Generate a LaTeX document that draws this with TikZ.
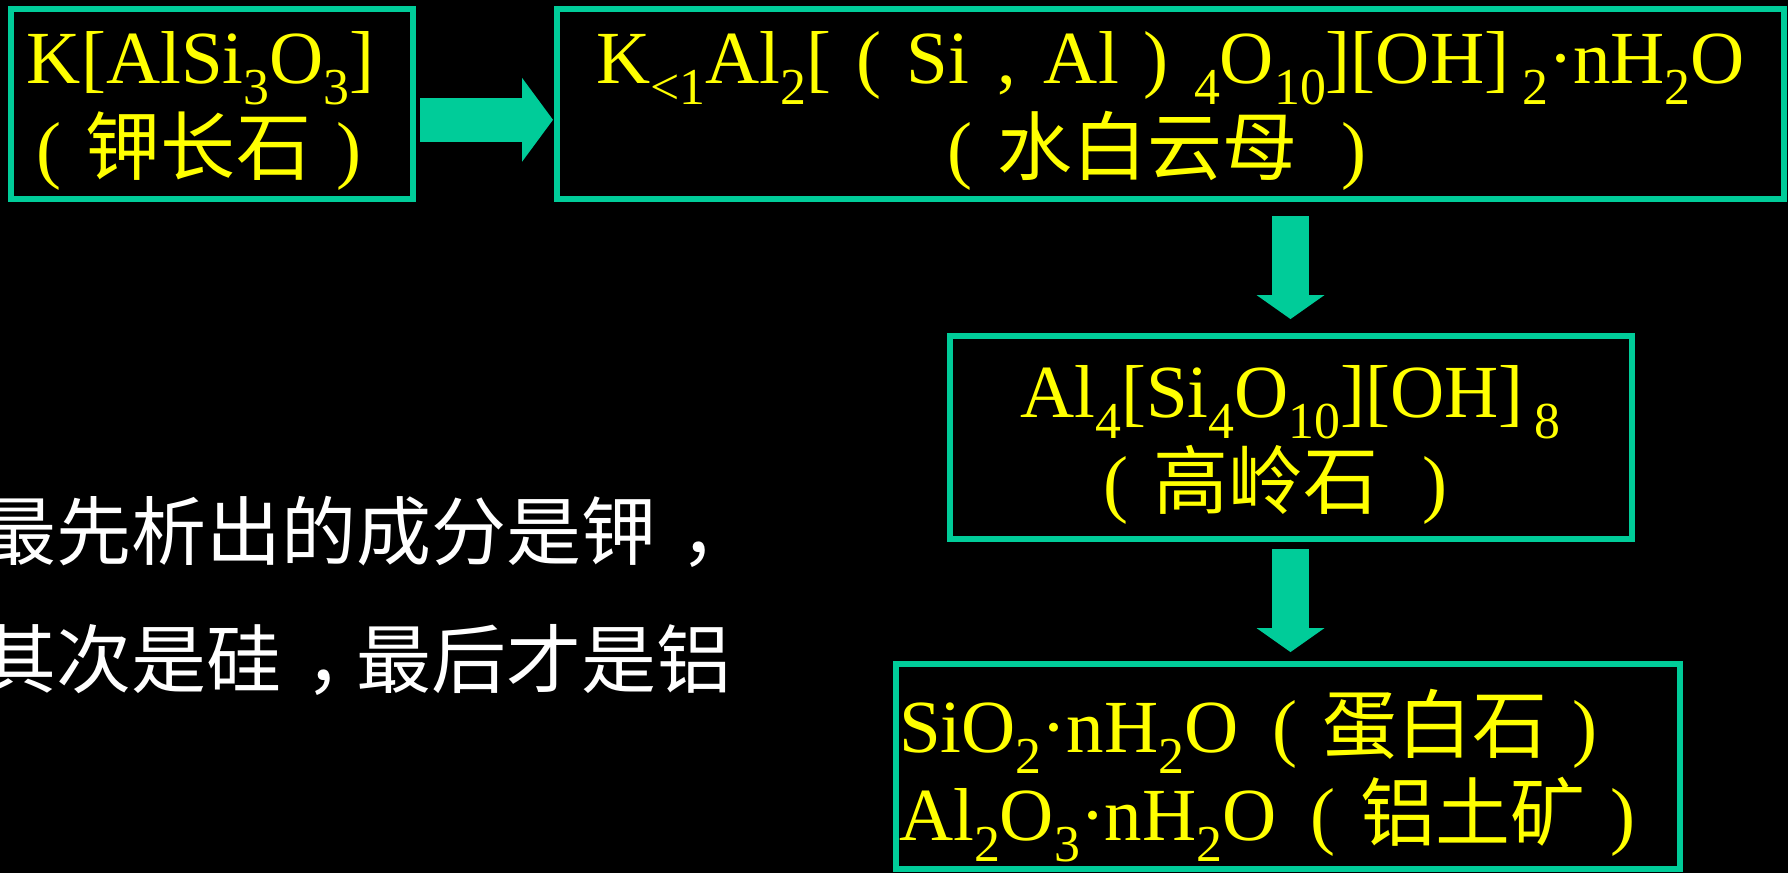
\documentclass[tikz,border=0pt]{standalone}
\usepackage{fontspec}
\setmainfont{Liberation Serif}
\newfontfamily\cjk{Noto Sans CJK SC}
\usetikzlibrary{arrows.meta, positioning, calc}
\definecolor{slideteal}{RGB}{0,204,153}
\definecolor{slideyellow}{RGB}{255,255,0}
% lowered index in the formulas
\newcommand{\lo}[1]{\raisebox{-0.28em}{\fontsize{29.5}{30}\selectfont #1}}
% wide brackets and commas
\newcommand{\lpar}{\makebox[1em]{(}}
\newcommand{\rpar}{\makebox[1em]{)}}
\newcommand{\wcomma}{\makebox[1em]{,}}
\newcommand{\midcomma}{\makebox[1em][l]{\hspace{0.32em}，}}

\begin{document}
\begin{tikzpicture}[
    every node/.style={font=\fontsize{42.68}{52}\selectfont},
    mineralbox/.style={rectangle, draw=slideteal, line width=0.12cm,
        text=slideyellow, align=center, inner sep=0pt, text depth=0pt},
    flowright/.style={-{Triangle[length=0.62cm, width=1.68cm, line width'=0pt]},
        line width=0.88cm, slideteal},
    flowdown/.style={-{Triangle[length=0.48cm, width=1.36cm, line width'=0pt]},
        line width=0.74cm, slideteal},
    note/.style={text=white, align=left, inner sep=0pt,
        font=\cjk\fontsize{42.68}{72.3}\selectfont},
]

% slide background
\fill[black] (0,0) rectangle (35.76,-17.46);
\useasboundingbox (0,0) rectangle (35.76,-17.46);

% === MINERALS ===
\node[mineralbox, minimum width=8.04cm, minimum height=3.81cm, text height=2.824cm]
    (feldspar) at (4.24,-2.076)
    {K[AlSi\lo{3}O\lo{3}]\kern0.3em\\\lpar{\cjk 钾长石}\rpar\kern0.36em};
\node[mineralbox, right=2.76cm of feldspar, minimum width=24.54cm,
    minimum height=3.81cm, text height=2.824cm] (muscovite)
    {K\lo{<1}Al\lo{2}[\lpar Si\wcomma Al\rpar\lo{4}O\lo{10}][OH]\lo{\ 2}{\char"00B7}nH\lo{2}O\\
     \lpar{\cjk 水白云母}\ \rpar\kern0.36em};
\node[mineralbox, below=2.62cm of muscovite, xshift=2.4cm, minimum width=13.64cm,
    minimum height=4.06cm, text height=2.836cm] (kaolinite)
    {Al\lo{4}[Si\lo{4}O\lo{10}][OH]\hspace{0.15em}\lo{8}\\
     \lpar{\cjk 高岭石}\ \rpar\kern0.4em};
\node[mineralbox, below=2.38cm of kaolinite, xshift=-0.06cm, align=left,
    font=\fontsize{42.68}{50.6}\selectfont,
    text width=15.54cm, inner xsep=0.07cm, minimum height=4.1cm,
    text height=0.5cm, text depth=1.08cm] (residue)
    {SiO\lo{2}{\char"00B7}nH\lo{2}O\hspace*{0.12em}\lpar{\cjk 蛋白石}\rpar\\
     Al\lo{2}O\lo{3}{\char"00B7}nH\lo{2}O\hspace*{0.12em}\lpar{\cjk 铝土矿}\rpar};

% === NOTE ===
\node[note, anchor=base west] (order) at (-0.38,-13.74)
    {最先析出的成分是钾\midcomma\\其次是硅\midcomma 最后才是铝};

% === ARROWS ===
\draw[flowright, shorten <=0.08cm, shorten >=0.02cm]
    ([yshift=-0.32cm]feldspar.east) -- ([yshift=-0.32cm]muscovite.west);
\draw[flowdown, shorten <=0.28cm, shorten >=0.28cm]
    (muscovite.south -| kaolinite.north) -- (kaolinite.north);
\draw[flowdown, shorten <=0.14cm, shorten >=0.18cm]
    (kaolinite.south) -- (kaolinite.south |- residue.north);

\end{tikzpicture}
\end{document}
